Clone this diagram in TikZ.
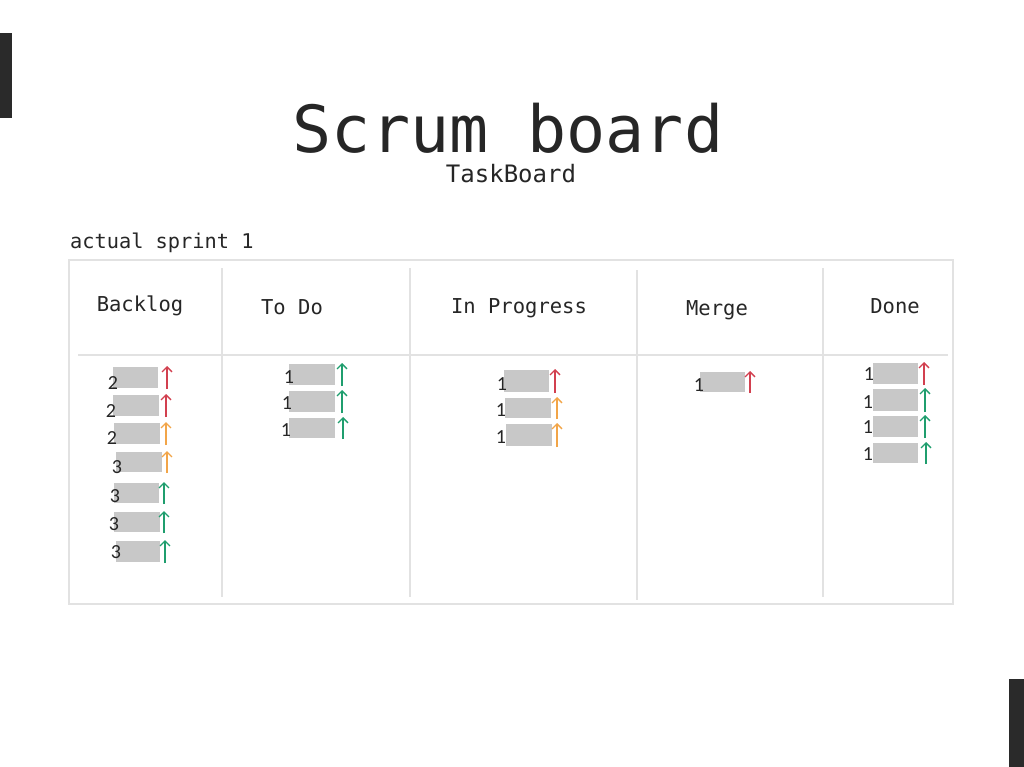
\documentclass[tikz,border=0pt]{standalone}
\usepackage{fontspec}
\setmainfont{DejaVu Sans Mono}
\newfontfamily\digitfont{Carlito}
\usetikzlibrary{arrows.meta}
\definecolor{ink}{HTML}{262626}
\definecolor{gridc}{HTML}{E2E2E2}
\definecolor{cardc}{HTML}{C8C8C8}
\definecolor{ared}{HTML}{D2404F}
\definecolor{aorange}{HTML}{F2A548}
\definecolor{agreen}{HTML}{1F9E6E}
\definecolor{barc}{HTML}{2A2A2A}
\tikzset{
  gridline/.style={draw=gridc, line width=2.4pt},
  card/.style={fill=cardc, draw=none, inner sep=0pt, anchor=north west},
  digit/.style={font=\digitfont\fontsize{20}{20}\selectfont, text=ink, inner sep=0pt},
  head/.style={font=\fontsize{20.5}{22}\selectfont, text=ink, inner sep=0pt, anchor=base},
  upar/.style={line width=1.3pt, -{Straight Barb[length=5pt,width=10pt]}},
}
\newcommand\mycard[9]{% name, x1, y1, x2, y2, digit, dx, dy, ax ; color via \cardcol
  \node[card, minimum width=#4-#2, minimum height=#5-#3] (#1) at (#2,#3) {};
  \node[digit] (#1-d) at (#7,#8) {#6};
  \coordinate (#1-a0) at (#9,#5+1);
  \coordinate (#1-a1) at (#9,#3-1);
  \draw[upar, \cardcol] (#1-a0) -- (#1-a1);
}
\begin{document}
\begin{tikzpicture}[x=1pt, y=-1pt]
\useasboundingbox (0,0) rectangle (1024,767);
\fill[white] (0,0) rectangle (1024,767);
% side bars
\fill[barc] (0,33) rectangle (12,118);
\fill[barc] (1009,679) rectangle (1024,767);
% titles
\node[font=\fontsize{65}{70}\selectfont, text=ink, anchor=base, inner sep=0pt] (title) at (508,153) {Scrum board};
\node[font=\fontsize{24}{26}\selectfont, text=ink, anchor=base, inner sep=0pt] (sub) at (511,183) {TaskBoard};
\node[font=\fontsize{20.3}{22}\selectfont, text=ink, anchor=base west, inner sep=0pt] (sprint) at (70,248) {actual sprint 1};
% board
\draw[gridline] (69,260) rectangle (953,604);
\coordinate (h0) at (78,355); \coordinate (h1) at (948,355);
\draw[gridline] (h0) -- (h1);
\foreach \x/\t/\b in {222/268/597, 410/268/597, 637/270/600, 823/268/597}{
  \draw[gridline] (\x,\t) -- (\x,\b);
}
% headers
\node[head] (hb) at (140,311) {Backlog};
\node[head] (ht) at (292,314) {To Do};
\node[head] (hi) at (519,313) {In Progress};
\node[head] (hm) at (717,315) {Merge};
\node[head] (hd) at (895,313) {Done};
% Backlog
\def\cardcol{ared}
\mycard{b1}{113}{367}{158}{388}{2}{113}{383}{167}
\mycard{b2}{113}{395}{159}{416}{2}{111}{411}{166}
\def\cardcol{aorange}
\mycard{b3}{114}{423}{160}{444}{2}{112}{438}{166}
\mycard{b4}{116}{452}{162}{472}{3}{117}{467}{167}
\def\cardcol{agreen}
\mycard{b5}{114}{483}{159}{503}{3}{115}{496}{164}
\mycard{b6}{114}{512}{160}{532}{3}{114}{524}{164}
\mycard{b7}{116}{541}{160}{562}{3}{116}{552}{165}
% To Do
\mycard{t1}{289}{364}{335}{385}{1}{289}{377}{342}
\mycard{t2}{289}{391}{335}{412}{1}{287}{403}{342}
\mycard{t3}{289}{418}{335}{438}{1}{286}{430}{343}
% In Progress
\def\cardcol{ared}
\mycard{p1}{504}{370}{549}{392}{1}{502}{384}{555}
\def\cardcol{aorange}
\mycard{p2}{505}{398}{551}{418}{1}{501}{410}{557}
\mycard{p3}{506}{424}{552}{446}{1}{501}{437}{557}
% Merge
\def\cardcol{ared}
\mycard{m1}{700}{372}{745}{392}{1}{699}{385}{750}
% Done
\mycard{d1}{873}{363}{918}{384}{1}{869}{374}{924}
\def\cardcol{agreen}
\mycard{d2}{873}{389}{918}{411}{1}{868}{402}{925}
\mycard{d3}{873}{416}{918}{437}{1}{868}{427}{925}
\mycard{d4}{873}{443}{918}{463}{1}{868}{454}{926}
\end{tikzpicture}
\end{document}
